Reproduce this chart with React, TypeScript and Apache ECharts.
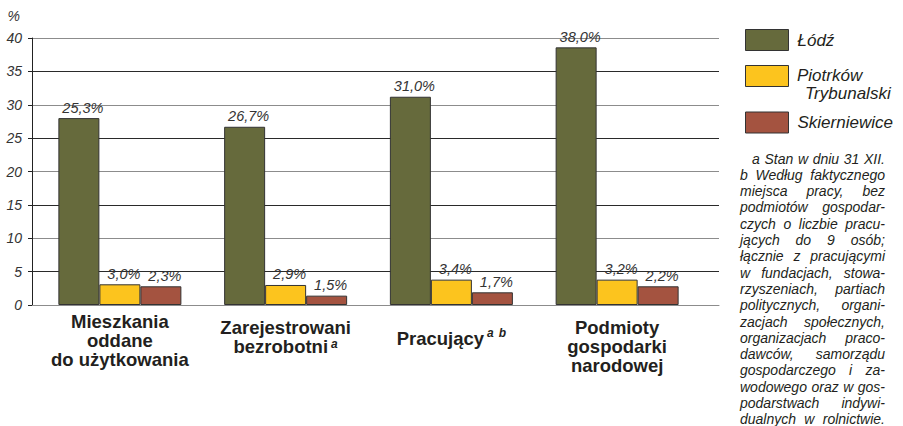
import React, { useEffect, useRef } from 'react';
import * as echarts from 'echarts';

// ---- data ----
const categoryLines: string[][] = [
  ['Mieszkania', 'oddane', 'do użytkowania'],
  ['Zarejestrowani', 'bezrobotni'],
  ['Pracujący'],
  ['Podmioty', 'gospodarki', 'narodowej'],
];
const categoryNotes: string[][] = [[], ['a'], ['a', 'b'], []];
const categories = categoryLines.map((l) => l.join(' '));

const seriesNames = ['Łódź', 'Piotrków Trybunalski', 'Skierniewice'];
const legendLines2 = ['Piotrków', 'Trybunalski'];
const lodzValues = [28.0, 26.7, 31.2, 38.6];
const piotrkowValues = [3.1, 3.0, 3.8, 3.8];
const skierniewiceValues = [2.8, 1.4, 1.9, 2.8];
const lodzLabels = ['25,3%', '26,7%', '31,0%', '38,0%'];
const piotrkowLabels = ['3,0%', '2,9%', '3,4%', '3,2%'];
const skierniewiceLabels = ['2,3%', '1,5%', '1,7%', '2,2%'];

const yMin = 0;
const yMax = 40;
const yInterval = 5;

const footnoteLines = [
  'a Stan w dniu 31 XII.',
  'b Według faktycznego',
  'miejsca pracy, bez',
  'podmiotów gospodar-',
  'czych o liczbie pracu-',
  'jących do 9 osób;',
  'łącznie z pracującymi',
  'w fundacjach, stowa-',
  'rzyszeniach, partiach',
  'politycznych, organi-',
  'zacjach społecznych,',
  'organizacjach praco-',
  'dawców, samorządu',
  'gospodarczego i za-',
  'wodowego oraz w gos-',
  'podarstwach indywi-',
  'dualnych w rolnictwie.',
];

// ---- styles ----
const FONT = '"Liberation Sans", Arial, Helvetica, sans-serif';
const COLORS = ['#666a3c', '#fcc41e', '#a45340'];
const TEXT = '#231f20';

const catFont = { fontSize: 18.5, fontWeight: 'bold' as const, fontFamily: FONT, color: TEXT };
const supFont = { fontSize: 12, fontWeight: 'bold' as const, fontStyle: 'italic' as const, fontFamily: FONT, color: TEXT };
const catLineHeights = [19, 19, 18, 19];
const catSpacers = [0, 5.5, 17.3, 6];
const supRaise = [0, 5, 11, 0];
const supSecondGap = 5;

function catFormatter(_v: string, idx: number) {
  const lines = categoryLines[idx];
  const notes = categoryNotes[idx];
  const parts: string[] = [];
  if (catSpacers[idx] > 0) parts.push(`{sp${idx}| }`);
  lines.forEach((ln, i) => {
    let s = `{t${idx}|${ln}}`;
    if (i === lines.length - 1 && notes.length) {
      notes.forEach((n, k) => {
        s += `{${k === 0 ? 's' : 'u'}${idx}|${n}}`;
      });
    }
    parts.push(s);
  });
  return parts.join('\n');
}

function buildRich() {
  const rich: Record<string, any> = {};
  for (let i = 0; i < 4; i++) {
    rich['t' + i] = { ...catFont, lineHeight: catLineHeights[i] };
    rich['sp' + i] = { fontSize: 2, lineHeight: catSpacers[i] || 1 };
    rich['s' + i] = { ...supFont, lineHeight: 10, padding: [0, 0, supRaise[i], 3] };
    rich['u' + i] = { ...supFont, lineHeight: 10, padding: [0, 0, supRaise[i], supSecondGap] };
  }
  return rich;
}

const legendText = { fontSize: 17, fontStyle: 'italic' as const, fontFamily: FONT, color: TEXT };

export default function App() {
  const ref = useRef<HTMLDivElement>(null);
  useEffect(() => {
    if (!ref.current) return;
    const chart = echarts.init(ref.current, undefined, { renderer: 'svg' });

    // footnote text block, justified
    const ctx = document.createElement('canvas').getContext('2d')!;
    ctx.font = `italic 14px ${FONT}`;
    const measure = (s: string) => ctx.measureText(s).width;
    const noteLeft = 740;
    const noteRight = 885;
    const noteTop = 158.5;
    const noteStep = 16.3;
    const noteStyle = {
      fontSize: 14,
      fontStyle: 'italic',
      fontFamily: FONT,
      fill: TEXT,
      verticalAlign: 'middle',
      textVerticalAlign: 'middle',
      align: 'left',
      textAlign: 'left',
    };
    const graphics: any[] = [];
    footnoteLines.forEach((line, i) => {
      const y = noteTop + i * noteStep;
      const left = i === 0 ? noteLeft + 12 : noteLeft;
      const words = line.split(' ');
      const widths = words.map(measure);
      const total = widths.reduce((a, b) => a + b, 0);
      const gap = words.length > 1 ? (noteRight - left - total) / (words.length - 1) : 0;
      let x = left;
      words.forEach((w, j) => {
        graphics.push({ type: 'text', x, y, silent: true, style: { ...noteStyle, text: w } });
        x += widths[j] + gap;
      });
    });

    // two-line legend label for the second series
    const legend2Style = {
      fontSize: 17,
      fontStyle: 'italic',
      fontFamily: FONT,
      fill: TEXT,
      verticalAlign: 'middle',
      textVerticalAlign: 'middle',
      align: 'left',
      textAlign: 'left',
    };
    graphics.push({ type: 'text', x: 797, y: 75.5, silent: true, style: { ...legend2Style, text: legendLines2[0] } });
    graphics.push({ type: 'text', x: 805, y: 93, silent: true, style: { ...legend2Style, text: legendLines2[1] } });

    const labelArrays = [lodzLabels, piotrkowLabels, skierniewiceLabels];
    const valueArrays = [lodzValues, piotrkowValues, skierniewiceValues];

    const legendBase = {
      orient: 'vertical',
      left: 745,
      padding: 0,
      itemWidth: 43,
      itemHeight: 21,
      icon: 'rect',
      selectedMode: false,
      itemStyle: { borderColor: '#333', borderWidth: 1 },
    };

    chart.setOption({
      animation: false,
      grid: [
        { left: 37, right: 203, top: 38, bottom: 121 },
        { left: 32, right: 184, top: 38, bottom: 121 },
      ],
      xAxis: [
        {
          type: 'category',
          gridIndex: 0,
          data: categories,
          axisLine: { show: false },
          axisTick: { show: false },
          axisLabel: {
            interval: 0,
            margin: 7,
            verticalAlign: 'top',
            formatter: catFormatter,
            rich: buildRich(),
          },
          z: 5,
        },
        {
          type: 'category',
          gridIndex: 1,
          data: [''],
          axisLine: { show: true, lineStyle: { color: '#8c8c8c', width: 1 } },
          axisTick: { show: false },
          axisLabel: { show: false },
          splitLine: { show: false },
        },
      ],
      yAxis: [
        { type: 'value', gridIndex: 0, min: yMin, max: yMax, interval: yInterval, show: false },
        {
          type: 'value',
          gridIndex: 1,
          min: yMin,
          max: yMax,
          interval: yInterval,
          name: '%',
          nameLocation: 'end',
          nameGap: 15,
          nameTextStyle: {
            fontSize: 14,
            fontStyle: 'italic',
            fontFamily: FONT,
            color: '#333',
            align: 'right',
            verticalAlign: 'bottom',
            padding: [0, 12, 0, 0],
          },
          axisLine: { show: true, lineStyle: { color: '#222', width: 1 } },
          axisTick: { show: true, length: 4, lineStyle: { color: '#222' } },
          axisLabel: {
            margin: 10,
            fontSize: 14,
            fontStyle: 'italic',
            fontFamily: FONT,
            color: '#333',
          },
          splitLine: { show: true, lineStyle: { color: ['#8c8c8c', '#2a2a2a'], width: 1 } },
        },
      ],
      legend: [
        { ...legendBase, top: 29, data: [seriesNames[0]], textStyle: { ...legendText, padding: [0, 0, 0, 4] } },
        {
          ...legendBase,
          top: 65,
          data: [seriesNames[1]],
          formatter: () => '',
          textStyle: { ...legendText },
        },
        { ...legendBase, top: 111.5, data: [seriesNames[2]], textStyle: { ...legendText, padding: [0, 0, 0, 4] } },
      ],
      series: seriesNames.map((name, si) => ({
        name,
        type: 'bar',
        xAxisIndex: 0,
        yAxisIndex: 0,
        data: valueArrays[si],
        barWidth: 41,
        barGap: '0%',
        itemStyle: { color: COLORS[si], borderColor: '#333', borderWidth: 1 },
        label: {
          show: true,
          position: 'top',
          distance: 3,
          offset: [4, 0],
          fontSize: 14.5,
          fontStyle: 'italic',
          fontFamily: FONT,
          color: '#333',
          formatter: (p: any) => labelArrays[si][p.dataIndex],
        },
      })),
      graphic: graphics,
    });
    return () => chart.dispose();
  }, []);
  return (
    <div
      ref={ref}
      style={{ position: 'fixed', left: 0, top: 0, width: 903, height: 426, background: '#fff' }}
    />
  );
}
